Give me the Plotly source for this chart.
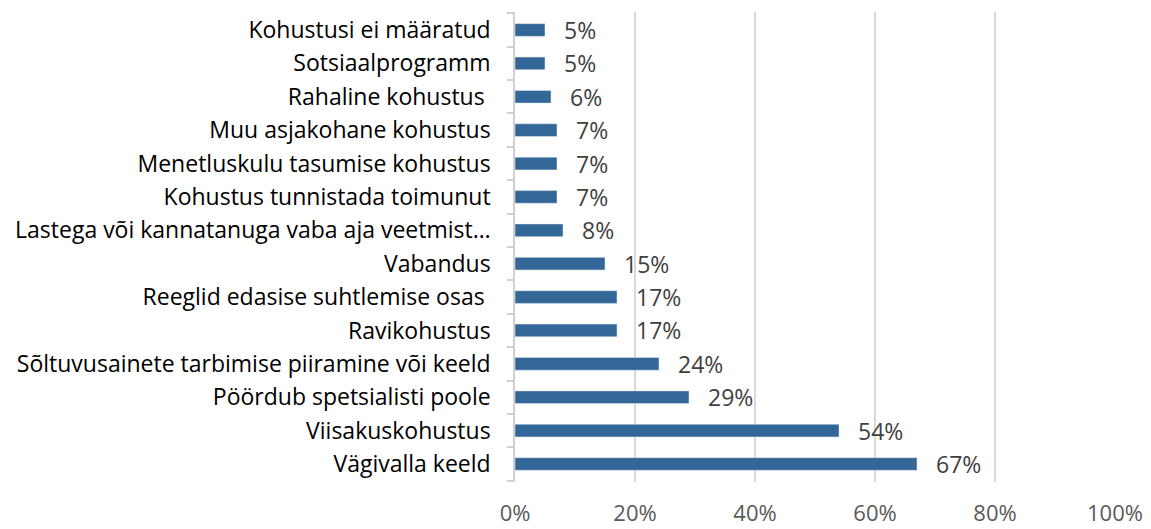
import plotly.graph_objects as go

categories = [
    "Vägivalla keeld",
    "Viisakuskohustus",
    "Pöördub spetsialisti poole",
    "Sõltuvusainete tarbimise piiramine või keeld",
    "Ravikohustus",
    "Reeglid edasise suhtlemise osas ",
    "Vabandus",
    "Lastega või kannatanuga vaba aja veetmist…",
    "Kohustus tunnistada toimunut",
    "Menetluskulu tasumise kohustus",
    "Muu asjakohane kohustus",
    "Rahaline kohustus ",
    "Sotsiaalprogramm",
    "Kohustusi ei määratud",
]
values = [0.67, 0.54, 0.29, 0.24, 0.17, 0.17, 0.15, 0.08, 0.07, 0.07, 0.07, 0.06, 0.05, 0.05]
labels = ["67%", "54%", "29%", "24%", "17%", "17%", "15%", "8%", "7%", "7%", "7%", "6%", "5%", "5%"]
x_ticks = [0, 0.2, 0.4, 0.6, 0.8, 1.0]
x_tick_labels = ["0%", "20%", "40%", "60%", "80%", "100%"]

FONT = "Open Sans"
FS = 23

fig = go.Figure(go.Bar(
    y=categories, x=values, orientation="h",
    marker=dict(color="#336797"),
    width=0.38,
    hoverinfo="skip",
))

for c, v, t in zip(categories, values, labels):
    fig.add_annotation(x=v, y=c, text=t, showarrow=False, xanchor="left",
                       xshift=17, font=dict(family=FONT, size=FS, color="#404040"))

fig.update_layout(
    width=1151, height=529,
    margin=dict(l=515, r=36, t=12, b=47),
    paper_bgcolor="white", plot_bgcolor="white",
    showlegend=False,
    font=dict(family=FONT),
)
fig.update_xaxes(
    range=[0, 1.0], tickvals=x_ticks, ticktext=x_tick_labels,
    showgrid=True, gridcolor="#d9d9d9", gridwidth=1.5,
    zeroline=False, showline=False,
    tickfont=dict(family=FONT, size=22, color="#595959"),
    ticklabelstandoff=16,
    automargin=False,
)
fig.update_yaxes(
    type="category", categoryorder="array", categoryarray=categories,
    showline=True, linecolor="#d0d0d0", linewidth=1.5,
    ticks="outside", tickson="boundaries", ticklen=6, tickcolor="#d0d0d0", tickwidth=1.5,
    tickfont=dict(family=FONT, size=FS, color="#000000"),
    ticklabelstandoff=18,
    showgrid=False,
    automargin=False,
)

fig.write_html("out.html", config={"displayModeBar": False},
               post_script="document.body.style.margin='0';")
